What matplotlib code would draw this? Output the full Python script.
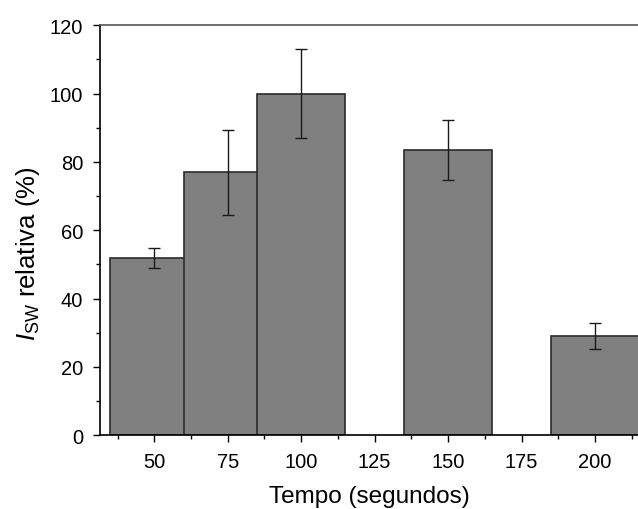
import matplotlib
matplotlib.use("Agg")
import matplotlib.pyplot as plt
from matplotlib.ticker import MultipleLocator

plt.rcParams['font.family'] = ['Liberation Sans', 'DejaVu Sans']
plt.rcParams['mathtext.fontset'] = 'custom'
plt.rcParams['mathtext.rm'] = 'Liberation Sans'
plt.rcParams['mathtext.it'] = 'Liberation Sans:italic'

# intensidade relativa por tempo
tempos = [50, 75, 100, 150, 200]
intensidade = [52, 77, 100, 83.5, 29]
erros = [2.9, 12.5, 13, 8.8, 3.75]

fig = plt.figure(figsize=(6.38, 5.10), dpi=100)
ax = fig.add_axes([0.1567, 0.1445, 0.8449, 0.8039])

ax.bar(tempos, intensidade, width=30, color='#808080', edgecolor='#2b2b2b',
       linewidth=1.2, zorder=2)
ax.errorbar(tempos, intensidade, yerr=erros, fmt='none', ecolor='#1a1a1a',
            elinewidth=1.0, capsize=4, capthick=1.0, zorder=3)

ax.set_xlim(31.5, 215)
ax.set_ylim(0, 120)
ax.xaxis.set_major_locator(MultipleLocator(25))
ax.xaxis.set_minor_locator(MultipleLocator(12.5))
ax.yaxis.set_major_locator(MultipleLocator(20))
ax.yaxis.set_minor_locator(MultipleLocator(10))
ax.set_xticks([50, 75, 100, 125, 150, 175, 200])

ax.tick_params(which='major', direction='out', length=5, width=1.0,
               labelsize=14.5, pad=7)
ax.tick_params(which='minor', direction='out', length=3, width=1.0)
ax.tick_params(axis='x', which='both', top=False)
ax.tick_params(axis='y', which='both', right=False)

for s in ax.spines.values():
    s.set_linewidth(1.2)
    s.set_color('black')
ax.spines['top'].set_color('#555555')

ax.set_xlabel('Tempo (segundos)', fontsize=17.5, labelpad=10)
ax.set_ylabel(r'$I_{\mathrm{SW}}$ relativa (%)', fontsize=18.5)
ax.yaxis.set_label_coords(-0.108, 0.445)

fig.savefig('out.png', dpi=100)
